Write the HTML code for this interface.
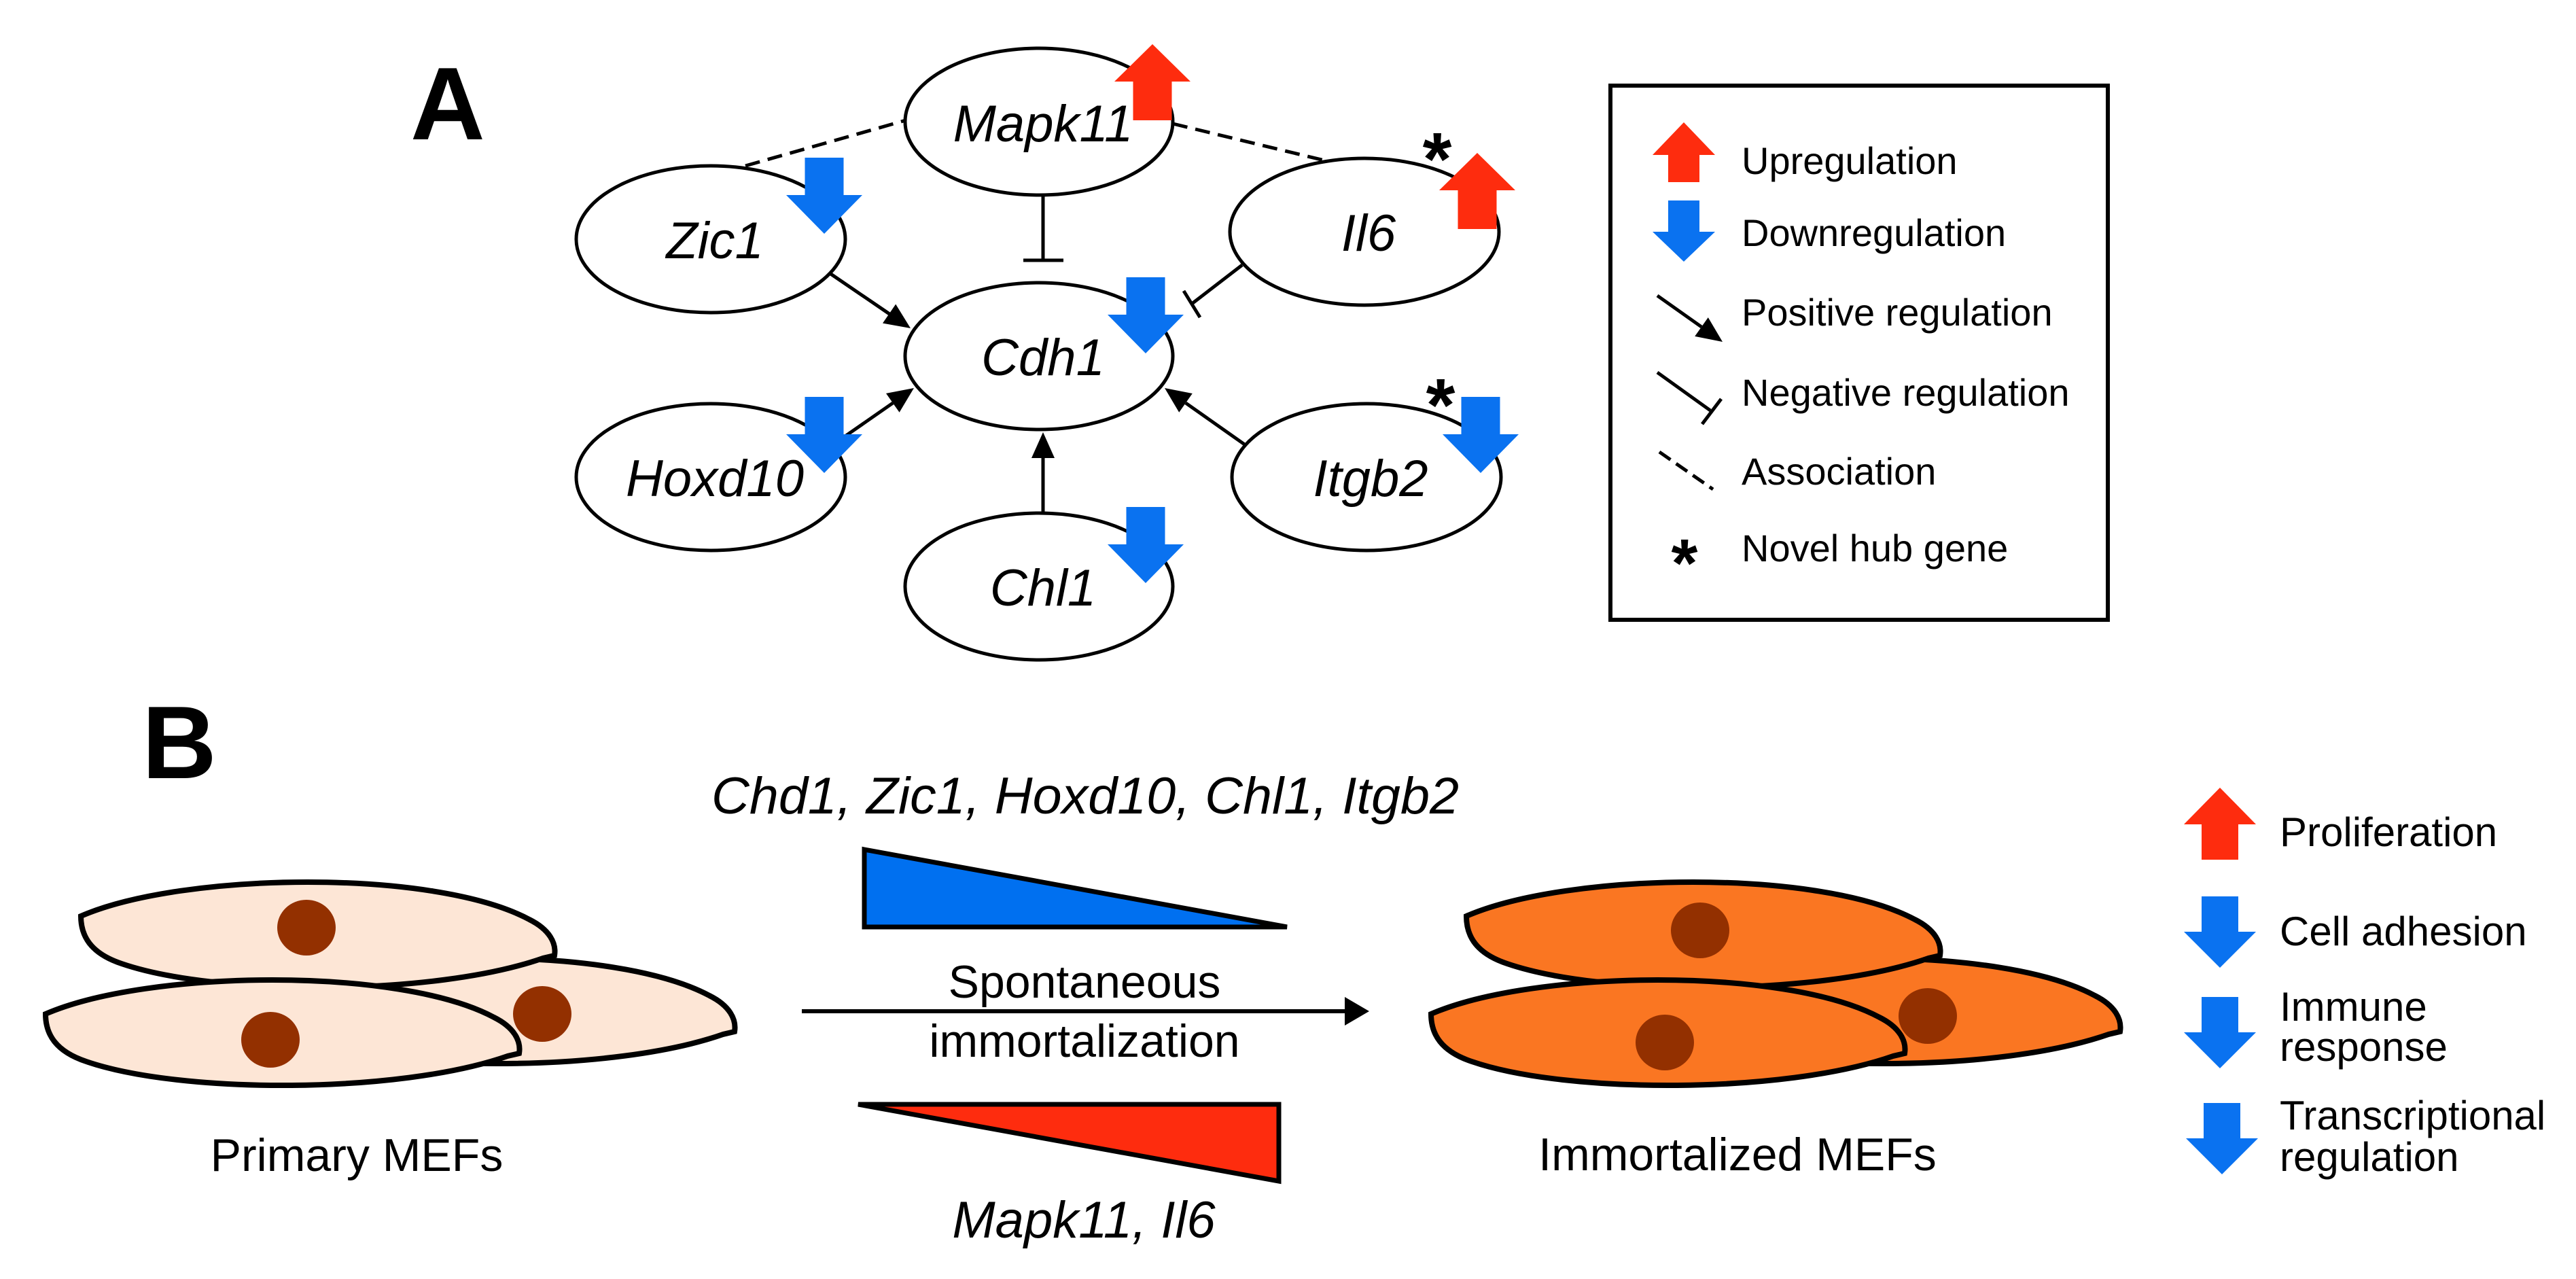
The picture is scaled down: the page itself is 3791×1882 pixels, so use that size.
<!DOCTYPE html>
<html><head><meta charset="utf-8"><style>
html,body{margin:0;padding:0;background:#fff;}
svg{display:block;}
text{font-family:"Liberation Sans",Arial,sans-serif;fill:#000;}
.it{font-style:italic;}
</style></head><body>
<svg width="3791" height="1882" viewBox="0 0 3791 1882" xmlns="http://www.w3.org/2000/svg">
<defs>
<path id="cell" d="M0,0 C150,-65 520,-70 660,5 C690,20 700,40 697,58 L680,62 C520,118 200,118 60,70 C15,55 0,30 0,0 Z"/>
</defs>

<!-- Panel labels -->
<text x="604" y="205" font-size="152" font-weight="bold">A</text>
<text x="209" y="1145" font-size="152" font-weight="bold">B</text>

<!-- Edges -->
<g stroke="#000" stroke-width="5" fill="none">
<line x1="1097" y1="244" x2="1333" y2="177" stroke-dasharray="22,12"/>
<line x1="1726" y1="182" x2="1953" y2="237" stroke-dasharray="22,12"/>
<line x1="1535" y1="287" x2="1535" y2="383"/>
<line x1="1506" y1="383" x2="1565" y2="383"/>
<line x1="1828" y1="390" x2="1754" y2="447"/>
<line x1="1742" y1="428" x2="1766" y2="467"/>
<line x1="1221" y1="402" x2="1309" y2="462"/>
<line x1="1245" y1="641" x2="1314" y2="593"/>
<line x1="1535" y1="756" x2="1535" y2="674"/>
<line x1="1833" y1="655" x2="1745" y2="593"/>
</g>
<g fill="#000">
<polygon points="1340,483 1299,475.6 1318.2,447.6"/>
<polygon points="1345,571 1323.6,606.7 1304,578.9"/>
<polygon points="1535,636 1552,674 1518,674"/>
<polygon points="1714,571 1754.8,579 1735.2,606.8"/>
</g>

<!-- Nodes -->
<g fill="#fff" stroke="#000" stroke-width="5">
<ellipse cx="1529" cy="179" rx="197" ry="108"/>
<ellipse cx="1046" cy="352" rx="198" ry="108"/>
<ellipse cx="2008" cy="341" rx="198" ry="108"/>
<ellipse cx="1529" cy="524" rx="197" ry="108"/>
<ellipse cx="1046" cy="702" rx="198" ry="108"/>
<ellipse cx="2011" cy="702" rx="198" ry="108"/>
<ellipse cx="1529" cy="863" rx="197" ry="108"/>
</g>
<g class="it" font-size="76" text-anchor="middle">
<text x="1535" y="208">Mapk11</text>
<text x="1052" y="380">Zic1</text>
<text x="2014" y="369">Il6</text>
<text x="1535" y="552">Cdh1</text>
<text x="1052" y="730">Hoxd10</text>
<text x="2017" y="730">Itgb2</text>
<text x="1535" y="891">Chl1</text>
</g>

<!-- Node arrows -->
<g fill="#0a72f0">
<polygon points="1184.5,232 1241.5,232 1241.5,287 1269,287 1213,344 1157,287 1184.5,287"/>
<polygon points="1657.5,408 1714.5,408 1714.5,463 1742,463 1686,520 1630,463 1657.5,463"/>
<polygon points="1184.5,584 1241.5,584 1241.5,639 1269,639 1213,696 1157,639 1184.5,639"/>
<polygon points="2150.5,584 2207.5,584 2207.5,639 2235,639 2179,696 2123,639 2150.5,639"/>
<polygon points="1657.5,746 1714.5,746 1714.5,801 1742,801 1686,858 1630,801 1657.5,801"/>
</g>
<g fill="#fe2c0e">
<polygon points="1696,65 1752,120 1724.5,120 1724.5,177 1667.5,177 1667.5,120 1640,120"/>
<polygon points="2174,225 2230,280 2202.5,280 2202.5,337 2145.5,337 2145.5,280 2118,280"/>
</g>
<text x="2115" y="272" font-size="110" font-weight="bold" text-anchor="middle">*</text>
<text x="2120" y="634" font-size="110" font-weight="bold" text-anchor="middle">*</text>

<!-- Legend -->
<rect x="2370" y="126" width="732" height="786" fill="none" stroke="#000" stroke-width="6"/>
<polygon fill="#fe2c0e" points="2478,180 2524,228 2501,228 2501,268 2455,268 2455,228 2432,228"/>
<polygon fill="#0a72f0" points="2455,295 2501,295 2501,341 2524,341 2478,385 2432,341 2455,341"/>
<g stroke="#000" stroke-width="5" fill="none">
<line x1="2439" y1="435" x2="2504" y2="481"/>
<line x1="2439" y1="548" x2="2517" y2="604"/>
<line x1="2505" y1="624" x2="2533" y2="587"/>
<line x1="2442" y1="665" x2="2521" y2="720" stroke-dasharray="20,10"/>
</g>
<polygon fill="#000" points="2535,503 2494.2,494.9 2513.8,467.1"/>
<text x="2479" y="863" font-size="100" font-weight="bold" text-anchor="middle">*</text>
<g font-size="56">
<text x="2563" y="256">Upregulation</text>
<text x="2563" y="362">Downregulation</text>
<text x="2563" y="479">Positive regulation</text>
<text x="2563" y="597">Negative regulation</text>
<text x="2563" y="713">Association</text>
<text x="2563" y="826">Novel hub gene</text>
</g>

<!-- Panel B -->
<text class="it" x="1047" y="1197" font-size="76" textLength="1100" lengthAdjust="spacingAndGlyphs">Chd1, Zic1, Hoxd10, Chl1, Itgb2</text>
<polygon points="1272,1250 1272,1364 1894,1364" fill="#0070f0" stroke="#000" stroke-width="7" stroke-linejoin="miter"/>
<text x="1596" y="1468" font-size="68" text-anchor="middle">Spontaneous</text>
<line x1="1180" y1="1488" x2="1980" y2="1488" stroke="#000" stroke-width="6"/>
<polygon points="2015,1488 1979,1467 1979,1509" fill="#000"/>
<text x="1596" y="1555" font-size="68" text-anchor="middle">immortalization</text>
<polygon points="1263,1625 1882,1625 1882,1738" fill="#fe2c0e" stroke="#000" stroke-width="7"/>
<text class="it" x="1595" y="1821" font-size="76" text-anchor="middle">Mapk11, Il6</text>

<!-- Primary cells -->
<g stroke="#000" stroke-width="8" fill="#fde6d6">
<use href="#cell" transform="translate(384,1460)"/>
<use href="#cell" transform="translate(119,1348)"/>
<use href="#cell" transform="translate(67,1492)"/>
</g>
<g fill="#933000">
<ellipse cx="798" cy="1492" rx="43" ry="41"/>
<ellipse cx="451" cy="1365" rx="43" ry="41"/>
<ellipse cx="398" cy="1530" rx="43" ry="41"/>
</g>
<text x="525" y="1723" font-size="68" text-anchor="middle">Primary MEFs</text>

<!-- Immortalized cells -->
<g stroke="#000" stroke-width="8" fill="#fa7622">
<use href="#cell" transform="translate(2423,1460)"/>
<use href="#cell" transform="translate(2158,1348)"/>
<use href="#cell" transform="translate(2106,1492)"/>
</g>
<g fill="#933000">
<ellipse cx="2837" cy="1495" rx="43" ry="41"/>
<ellipse cx="2502" cy="1369" rx="43" ry="41"/>
<ellipse cx="2450" cy="1534" rx="43" ry="41"/>
</g>
<text x="2557" y="1722" font-size="68" text-anchor="middle">Immortalized MEFs</text>

<!-- Right legend B -->
<polygon fill="#fe2c0e" points="3267,1159 3320,1213 3294,1213 3294,1265 3240,1265 3240,1213 3214,1213"/>
<g fill="#0a72f0">
<polygon points="3240,1319 3294,1319 3294,1371 3320,1371 3267,1424 3214,1371 3240,1371"/>
<polygon points="3240,1467 3294,1467 3294,1519 3320,1519 3267,1572 3214,1519 3240,1519"/>
<polygon points="3243,1623 3297,1623 3297,1675 3323,1675 3270,1728 3217,1675 3243,1675"/>
</g>
<g font-size="60">
<text x="3355" y="1245">Proliferation</text>
<text x="3355" y="1391">Cell adhesion</text>
<text x="3355" y="1502">Immune</text>
<text x="3355" y="1561">response</text>
<text x="3355" y="1662">Transcriptional</text>
<text x="3355" y="1723">regulation</text>
</g>
</svg>
</body></html>
